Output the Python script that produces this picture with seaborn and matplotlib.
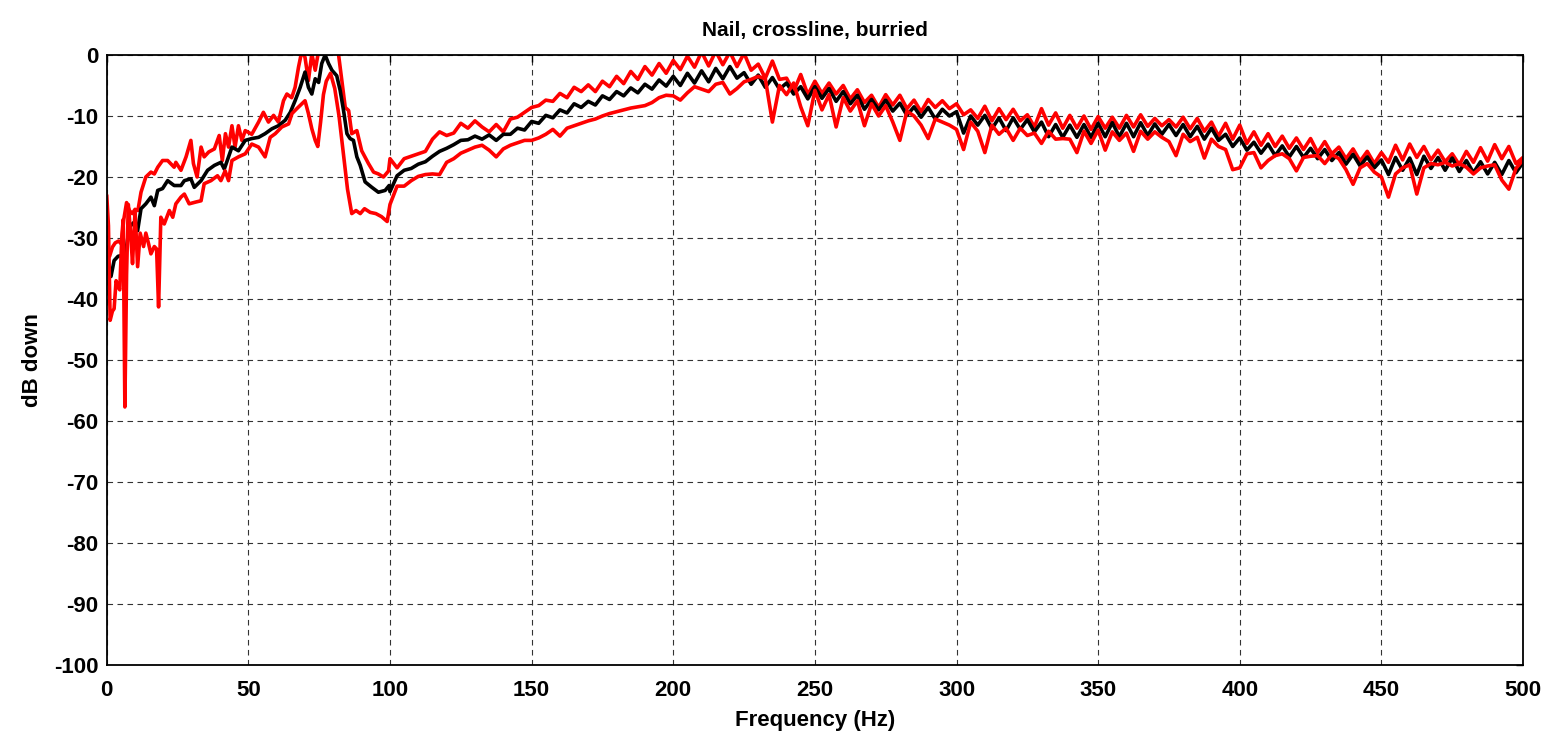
import numpy as np
import matplotlib
matplotlib.use("Agg")
import matplotlib.pyplot as plt
import seaborn as sns

# %% Style: MATLAB-like bold figure
sns.set_style("white")
plt.rcParams['font.family'] = ['Liberation Sans', 'DejaVu Sans']
plt.rcParams['font.weight'] = 'bold'
plt.rcParams['axes.labelweight'] = 'bold'
plt.rcParams['axes.titleweight'] = 'bold'
plt.rcParams['axes.unicode_minus'] = False
plt.rcParams['text.color'] = 'black'
plt.rcParams['axes.labelcolor'] = 'black'
plt.rcParams['xtick.color'] = 'black'
plt.rcParams['ytick.color'] = 'black'

# %% Data (frequency in Hz, level in dB)
# low band, irregular sample points
freq_lo_black = [1.0, 1.5, 2.6, 4.0, 5.0, 6.8, 8.0, 9.7, 10.9, 12.1, 13.8, 15.6, 16.8, 18.0, 19.7,
                 21.5, 23.8, 26.2, 27.4, 29.7, 30.9, 33.3, 35.6, 38.0, 40.3, 41.5, 43.0, 44.2, 46.5,
                 48.9, 51.2, 53.6, 55.9, 58.3, 60.6, 63.0, 64.8, 66.5, 68.3, 70.0, 71.2, 72.4, 73.6,
                 74.8, 75.9, 77.1, 78.3, 79.5, 81.2, 82.4, 83.6, 84.8, 85.9, 87.1, 88.3, 89.5, 91.2,
                 93.6, 95.9, 98.3, 99.7]
db_lo_black = [-36.0, -36.3, -33.7, -33.0, -32.9, -32.0, -28.2, -27.4, -28.8, -25.2, -24.4, -23.3,
               -24.7, -22.2, -21.9, -20.6, -21.4, -21.4, -20.6, -20.3, -21.7, -20.6, -18.9, -18.1,
               -17.6, -18.7, -16.7, -15.1, -15.7, -14.0, -13.7, -13.5, -12.9, -12.1, -11.6, -10.7,
               -9.4, -7.5, -5.3, -2.8, -5.3, -6.4, -3.9, -4.5, -1.4, 0.0, -1.4, -2.5, -3.4, -5.8,
               -9.1, -12.9, -13.7, -14.0, -16.7, -18.1, -20.8, -21.7, -22.5, -22.2, -21.4]

freq_lo_red1 = [0.0, 1.0, 2.0, 3.0, 4.2, 5.2, 6.0, 7.0, 8.0, 9.0, 10.0, 11.0, 12.1, 13.8, 15.6,
                16.8, 18.0, 19.7, 21.5, 23.8, 24.4, 26.2, 28.0, 29.7, 30.6, 31.9, 33.3, 34.4, 36.0,
                38.0, 39.7, 40.8, 41.9, 43.0, 44.2, 45.3, 46.5, 47.7, 48.9, 51.2, 53.6, 55.3, 57.1,
                58.9, 60.6, 62.4, 63.6, 65.3, 66.5, 67.7, 68.9, 70.0, 71.2, 72.4, 73.6, 74.8, 76.5,
                78.3, 80.0, 81.8, 83.0, 84.2, 85.4, 86.5, 88.3, 90.0, 92.4, 94.2, 95.9, 97.7, 99.5]
db_lo_red1 = [-30.0, -33.0, -31.5, -30.8, -30.5, -31.0, -27.0, -24.2, -25.5, -26.0, -25.3, -25.5,
              -22.5, -20.0, -19.2, -19.5, -18.4, -17.3, -17.3, -18.4, -17.6, -18.9, -16.7, -14.0,
              -17.8, -20.0, -15.1, -16.7, -15.9, -15.4, -13.2, -17.3, -12.9, -15.1, -11.6, -15.1,
              -11.6, -14.0, -12.4, -13.0, -11.0, -9.4, -11.0, -9.9, -11.0, -7.5, -6.4, -7.0, -5.3,
              -2.0, 0.7, -0.4, -4.2, 0.2, -2.5, 0.7, 0.7, 0.5, 0.7, 0.2, -4.2, -8.6, -9.1, -12.9,
              -12.4, -15.7, -17.8, -19.2, -19.5, -20.0, -19.0]

freq_lo_red2 = [0.0, 0.6, 1.2, 2.0, 2.6, 3.3, 4.0, 4.6, 5.3, 5.8, 6.4, 7.0, 7.6, 8.4, 9.1, 10.0,
                10.9, 11.8, 13.0, 13.8, 14.8, 15.6, 16.8, 17.6, 18.3, 19.1, 20.3, 22.1, 23.3, 24.4,
                26.2, 27.4, 29.1, 31.5, 33.3, 34.4, 36.8, 39.1, 40.3, 41.8, 43.0, 44.2, 46.5, 48.9,
                51.2, 53.6, 55.9, 57.7, 59.5, 61.8, 64.2, 65.4, 67.1, 68.9, 70.0, 71.2, 72.4, 73.6,
                74.5, 75.5, 76.5, 77.5, 79.0, 80.5, 82.0, 83.5, 85.0, 86.5, 88.0, 89.5, 91.0, 93.0,
                95.0, 97.0, 99.0]
db_lo_red2 = [-23.0, -28.0, -43.5, -42.0, -41.6, -37.0, -38.0, -38.5, -30.0, -27.0, -57.7, -36.0,
              -24.5, -29.0, -34.2, -25.5, -34.7, -29.2, -31.4, -29.2, -31.0, -32.6, -31.4, -31.8,
              -41.3, -26.6, -27.7, -25.5, -26.6, -24.4, -23.3, -22.8, -24.4, -24.1, -23.9, -21.1,
              -20.6, -19.8, -20.6, -19.0, -20.6, -17.3, -16.7, -16.2, -14.6, -15.1, -16.7, -13.5,
              -12.9, -11.8, -11.3, -9.6, -8.8, -8.0, -7.5, -9.6, -12.1, -14.0, -15.0, -11.0, -6.5,
              -4.3, -3.0, -5.5, -10.0, -16.0, -22.0, -26.0, -25.5, -26.0, -25.2, -25.8, -26.0,
              -26.5, -27.3]

# high band, sampled every 2.5 Hz from 100 to 500 Hz
freq_hi = np.arange(100, 500.1, 2.5)
db_hi_black = [
    -22.4, -19.8, -18.9, -18.6, -17.9, -17.5, -16.6, -15.8, -15.3, -14.7,
    -14.0, -13.9, -13.3, -13.8, -13.1, -14.0, -13.0, -13.0, -12.0, -12.3,
    -10.9, -11.2, -9.9, -10.3, -9.0, -9.5, -8.0, -8.6, -7.6, -8.2,
    -6.7, -7.3, -6.0, -6.7, -5.4, -6.2, -4.8, -5.6, -4.1, -5.1,
    -3.5, -5.0, -3.0, -4.6, -2.6, -4.4, -2.2, -3.9, -1.9, -3.8,
    -2.9, -4.8, -3.3, -5.3, -3.7, -5.6, -4.6, -6.4, -5.2, -7.2,
    -5.2, -7.1, -5.5, -7.6, -6.0, -8.0, -6.6, -8.9, -7.3, -9.0,
    -7.4, -9.2, -7.9, -9.9, -8.5, -10.2, -8.6, -10.5, -8.9, -10.0,
    -9.3, -12.8, -10.0, -11.5, -9.9, -12.1, -10.3, -12.4, -10.3, -12.2,
    -10.6, -12.6, -11.0, -13.4, -11.4, -13.5, -11.5, -13.5, -11.4, -13.5,
    -11.2, -13.4, -11.1, -13.4, -11.2, -13.4, -11.1, -13.2, -11.3, -13.0,
    -11.4, -13.2, -11.4, -13.4, -11.7, -13.8, -12.0, -14.0, -13.0, -15.0,
    -13.6, -15.6, -14.3, -16.1, -14.6, -16.5, -14.9, -16.7, -15.0, -16.8,
    -15.3, -17.0, -15.5, -17.3, -16.0, -17.9, -16.3, -18.2, -16.7, -18.5,
    -17.2, -19.6, -16.8, -18.9, -16.9, -19.6, -16.6, -18.6, -16.8, -18.9,
    -16.9, -19.1, -17.3, -19.3, -17.5, -19.5, -17.6, -19.6, -17.3, -19.3,
    -17.6]
db_hi_red1 = [
    -17.0, -18.5, -17.0, -16.6, -16.2, -15.8, -13.8, -12.6, -13.2, -12.8,
    -11.2, -12.0, -10.8, -11.8, -12.6, -11.4, -12.6, -10.5, -10.2, -9.4,
    -8.6, -8.3, -7.4, -7.6, -6.3, -7.0, -5.3, -6.0, -4.9, -6.0,
    -4.3, -5.2, -3.5, -4.7, -2.7, -4.0, -1.9, -3.3, -1.4, -3.0,
    -0.9, -2.4, -0.2, -2.0, 0.5, -1.8, 0.6, -1.6, 0.5, -1.9,
    0.3, -2.5, -1.5, -3.8, -1.0, -4.0, -3.8, -6.0, -3.2, -6.5,
    -4.3, -6.3, -4.6, -6.4, -5.0, -7.2, -5.7, -7.8, -6.6, -8.6,
    -6.5, -8.2, -6.6, -8.8, -7.4, -9.3, -7.3, -8.6, -7.5, -8.8,
    -8.0, -9.8, -9.0, -10.4, -8.4, -10.8, -8.8, -10.6, -8.9, -10.8,
    -9.8, -11.8, -8.8, -11.5, -9.5, -12.0, -9.9, -12.0, -10.0, -12.2,
    -10.1, -12.0, -10.2, -12.0, -9.9, -11.8, -9.8, -11.7, -10.4, -11.6,
    -10.6, -11.8, -10.2, -12.1, -10.4, -12.5, -11.0, -13.3, -11.2, -13.8,
    -11.5, -14.5, -12.6, -14.8, -12.9, -15.0, -13.3, -15.3, -13.6, -15.5,
    -13.7, -16.0, -14.2, -16.2, -15.1, -17.0, -15.4, -17.4, -15.8, -17.8,
    -16.0, -17.6, -14.8, -17.2, -14.6, -16.8, -15.0, -17.2, -15.6, -17.5,
    -16.2, -18.0, -15.8, -17.6, -15.2, -17.4, -14.7, -17.0, -15.0, -17.8,
    -16.8]
db_hi_red2 = [
    -24.5, -21.5, -21.5, -20.6, -19.9, -19.6, -19.5, -19.6, -17.6, -17.0,
    -16.1, -15.6, -15.1, -14.8, -15.6, -16.7, -15.4, -14.8, -14.4, -14.0,
    -14.0, -13.6, -13.0, -12.2, -13.3, -12.0, -11.6, -11.2, -10.8, -10.5,
    -10.0, -9.6, -9.3, -9.0, -8.7, -8.5, -8.3, -7.8, -7.0, -6.6,
    -6.7, -7.4, -6.2, -5.2, -5.6, -6.0, -4.8, -4.5, -6.4, -5.5,
    -4.4, -4.0, -3.5, -3.9, -11.0, -5.0, -6.5, -4.6, -8.5, -11.6,
    -5.8, -9.0, -6.5, -11.8, -7.0, -9.2, -7.5, -11.6, -8.0, -10.0,
    -8.3, -11.0, -14.0, -9.2, -10.0, -11.5, -13.7, -10.5, -11.0, -11.5,
    -12.2, -15.5, -11.0, -12.5, -16.0, -11.5, -13.0, -12.0, -14.0, -12.0,
    -13.2, -12.8, -14.5, -12.5, -13.8, -13.7, -13.8, -16.0, -12.5, -14.5,
    -12.3, -15.6, -12.6, -14.0, -12.8, -15.8, -12.5, -13.8, -12.6, -13.5,
    -14.2, -16.5, -13.0, -14.2, -13.5, -16.9, -13.8, -15.0, -15.5, -18.8,
    -18.5, -16.2, -16.0, -18.5, -17.3, -16.5, -16.2, -17.0, -19.0, -16.8,
    -16.6, -16.5, -17.8, -16.3, -17.0, -18.8, -21.2, -18.5, -17.8, -19.2,
    -20.0, -23.3, -19.5, -18.5, -18.0, -22.8, -18.5, -17.8, -18.0, -17.6,
    -18.2, -17.8, -18.4, -19.5, -18.5, -18.2, -18.0, -20.5, -22.0, -18.6,
    -17.2]

x_ticks = [0, 50, 100, 150, 200, 250, 300, 350, 400, 450, 500]
y_ticks = [0, -10, -20, -30, -40, -50, -60, -70, -80, -90, -100]

# join the two bands per trace
fb = np.concatenate([freq_lo_black, freq_hi])
yb = np.concatenate([db_lo_black, db_hi_black])
f1 = np.concatenate([freq_lo_red1, freq_hi])
y1 = np.concatenate([db_lo_red1, db_hi_red1])
f2 = np.concatenate([freq_lo_red2, freq_hi])
y2 = np.concatenate([db_lo_red2, db_hi_red2])

# %% Plot
fig = plt.figure(figsize=(15.47, 7.37), dpi=100)
ax = fig.add_axes([0.069, 0.0977, 0.9155, 0.8277])

sns.lineplot(x=f1, y=y1, color='#ff0000', linewidth=2.6, estimator=None, sort=False, ax=ax)
sns.lineplot(x=fb, y=yb, color='black', linewidth=2.6, estimator=None, sort=False, ax=ax)
sns.lineplot(x=f2, y=y2, color='#ff0000', linewidth=2.6, estimator=None, sort=False, ax=ax)

ax.set_xlim(0, 500)
ax.set_ylim(-100, 0)
ax.set_xticks(x_ticks)
ax.set_yticks(y_ticks)
ax.grid(True, color='0.2', linestyle=(0, (5, 4)), linewidth=0.8)
ax.tick_params(direction='in', top=True, right=True, length=5, width=1, labelsize=16)
ax.tick_params(axis='x', pad=11)
ax.tick_params(axis='y', pad=6)
for s in ax.spines.values():
    s.set_color('black')
    s.set_linewidth(1.3)

ax.set_title('Nail, crossline, burried', fontsize=15, pad=14)
ax.set_xlabel('Frequency (Hz)', fontsize=16, labelpad=6)
ax.set_ylabel('dB down', fontsize=16, labelpad=8)

plt.savefig('out.png', dpi=100)
